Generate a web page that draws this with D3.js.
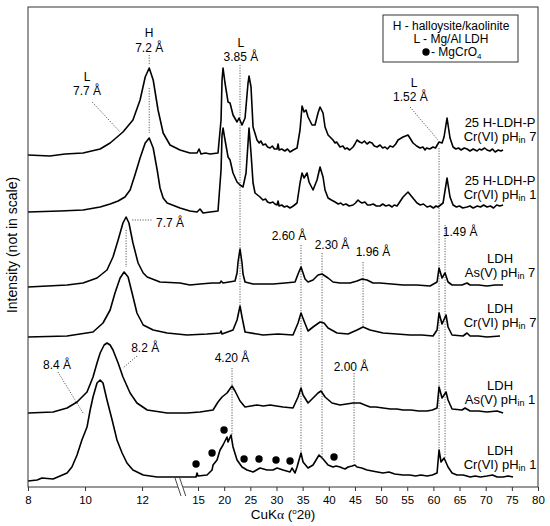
<!DOCTYPE html>
<html>
<head>
<meta charset="utf-8">
<script src="https://cdn.jsdelivr.net/npm/d3@7"></script>
<style>
body{margin:0;background:#fff;}
text{font-family:"Liberation Sans",Arial,sans-serif;fill:#000;}
</style>
</head>
<body>
<div id="chart"></div>
<script>
// XRD patterns, [2theta, intensity] - intensities are stacked arbitrary units (not in scale)

var hlpCr7 = [[8.0,332],[8.77,331],[9.3,333],[9.93,334],[10.53,338],[10.88,344],[11.33,355],[11.68,367],[11.93,387],[12.11,410],[12.25,419],[12.39,407],[12.56,377],[12.74,354],[12.98,342],[13.33,337],[13.84,334],[14.81,334],[15.2,338],[15.57,333],[16.4,334],[17.3,333],[18.82,334],[19.40,367],[19.59,407],[19.78,419],[20.16,404],[20.74,385],[21.12,384],[21.69,372],[22.46,365],[22.84,369],[23.41,362],[23.99,369],[24.56,404],[24.75,411],[25.13,400],[25.52,360],[26.28,347],[26.7,344],[27.0,346],[27.43,342],[27.9,343],[28.3,340],[28.77,339],[29.2,341],[29.6,338],[30.11,338],[30.30,343],[30.5,337],[31.0,338],[31.6,336],[32.1,338],[32.59,335],[33.2,337],[33.93,339],[34.50,357],[34.89,381],[35.27,375],[35.65,377],[36.03,370],[36.80,362],[37.37,362],[37.94,374],[38.33,380],[38.90,374],[39.28,360],[39.86,352],[40.81,347],[41.2,344],[41.5,345],[42.15,340],[42.7,341],[43.1,338],[43.49,339],[44.0,337],[44.64,340],[45.0,343],[45.40,347],[45.9,345],[46.36,344],[46.8,346],[47.31,343],[47.8,345],[48.27,344],[48.7,341],[49.23,340],[49.8,342],[50.3,339],[50.76,340],[51.2,338],[51.7,341],[52.28,340],[52.8,343],[53.24,347],[54.20,350],[55.15,352],[56.11,344],[56.8,341],[57.45,339],[58.0,340],[58.4,337],[58.7,339],[59.3,338],[59.93,340],[60.4,339],[61.08,345],[61.65,344],[62.04,350],[62.61,369],[63.18,349],[63.76,340],[64.3,338],[64.8,339],[65.3,337],[65.9,339],[66.43,338],[67.0,336],[67.6,338],[68.35,336],[68.8,338],[69.2,337],[69.8,339],[70.26,337],[70.8,336],[71.3,338],[71.8,335],[72.4,337],[72.9,336],[73.32,337]];

var hlpCr1 = [[8.0,275],[9.12,276],[9.93,277],[10.53,280],[10.88,283],[11.16,286],[11.40,290],[11.58,297],[11.75,312],[11.93,329],[12.11,344],[12.25,349],[12.39,339],[12.53,317],[12.63,299],[12.74,289],[12.88,284],[13.33,279],[13.84,276],[14.81,275],[15.38,278],[15.96,274],[17.3,275],[18.82,276],[19.40,317],[19.59,352],[19.78,359],[20.16,347],[20.74,330],[21.12,327],[21.69,314],[22.46,305],[23.03,302],[23.60,300],[24.18,314],[24.56,344],[24.75,359],[25.13,334],[25.52,304],[25.90,294],[26.85,290],[27.4,287],[27.9,288],[28.3,285],[28.77,284],[29.3,285],[29.7,283],[30.11,282],[30.30,286],[30.5,281],[31.0,282],[31.5,280],[32.0,281],[32.59,279],[33.2,281],[33.93,284],[34.50,304],[34.89,314],[35.27,309],[35.84,314],[36.22,305],[36.99,297],[37.75,307],[38.33,320],[38.90,310],[39.28,297],[39.86,289],[40.5,287],[41.20,285],[41.8,283],[42.3,284],[42.72,282],[43.3,283],[43.9,281],[44.64,282],[45.1,284],[45.59,287],[46.0,285],[46.36,284],[46.9,285],[47.4,282],[47.89,282],[48.5,283],[49.1,281],[49.80,281],[50.3,283],[50.9,281],[51.5,282],[52.1,280],[52.5,282],[53.05,281],[54.20,290],[55.15,295],[55.92,290],[56.87,284],[57.5,282],[58.1,283],[58.79,280],[59.4,281],[60.0,279],[60.5,281],[60.89,280],[61.85,284],[62.61,309],[63.18,290],[63.76,282],[64.4,280],[65.0,281],[65.6,279],[66.43,280],[67.0,281],[67.6,279],[68.4,281],[69.0,280],[69.6,282],[70.26,280],[70.9,281],[71.5,279],[72.1,282],[72.7,281],[73.32,282]];

var ldhAs7 = [[8.0,200],[9.37,202],[9.93,204],[10.42,209],[10.77,217],[10.98,230],[11.16,247],[11.33,264],[11.44,270],[11.54,264],[11.68,244],[11.86,224],[12.04,214],[12.18,210],[12.63,205],[13.33,204],[13.84,202],[15.38,203],[17.68,204],[19.21,204],[19.40,206],[19.78,204],[22.07,206],[22.46,214],[22.65,225],[23.03,238],[23.41,224],[23.60,213],[23.99,205],[25.52,203],[29.34,203],[31.63,204],[33.55,205],[34.12,213],[34.69,220],[35.08,214],[35.46,208],[36.03,205],[36.99,207],[37.94,212],[38.71,213],[39.28,211],[39.86,209],[40.81,205],[42.15,204],[44.06,204],[45.40,206],[46.36,208],[47.31,207],[48.46,204],[49.80,204],[52.0,203],[54.20,202],[56.8,202],[59.36,201],[60.70,205],[61.08,219],[61.65,209],[62.23,214],[62.80,205],[63.57,202],[65.48,202],[66.43,204],[67.01,202],[68.6,202],[70.26,201],[71.8,202],[73.32,202]];

var ldhCr7 = [[8.0,150],[9.37,151],[10.28,155],[10.63,164],[10.88,177],[11.05,194],[11.23,209],[11.37,215],[11.51,210],[11.65,194],[11.82,174],[12.04,162],[12.39,157],[12.88,154],[13.68,152],[16.72,153],[19.21,154],[19.40,156],[19.59,153],[21.69,157],[22.46,167],[23.03,181],[23.41,170],[23.99,155],[27.43,152],[30.3,153],[33.16,152],[34.12,164],[34.69,174],[35.27,166],[36.03,156],[36.99,160],[38.33,165],[39.09,164],[39.86,159],[41.58,154],[43.68,153],[45.40,157],[46.55,160],[47.89,157],[50.37,154],[53.0,153],[55.54,152],[57.8,152],[59.93,151],[60.70,157],[61.08,174],[61.65,163],[62.42,172],[62.80,160],[63.57,152],[65.67,151],[66.43,154],[67.01,151],[68.6,151],[70.26,150],[72.74,151]];

var ldhAs1 = [[8.0,74],[8.88,75],[9.37,79],[9.72,85],[10.07,95],[10.28,110],[10.42,124],[10.53,134],[10.67,142],[10.77,144],[10.88,142],[10.98,137],[11.16,124],[11.33,110],[11.58,94],[11.82,84],[12.18,77],[12.88,74],[13.68,74],[15.38,75],[16.6,76],[17.87,77],[18.82,85],[19.59,90],[20.54,94],[21.50,101],[22.07,96],[23.03,86],[23.99,80],[25.1,81],[26.28,82],[27.5,81],[28.77,82],[30.0,81],[31.25,80],[33.16,79],[34.12,90],[34.69,99],[35.08,92],[36.03,84],[36.99,89],[37.94,94],[38.52,96],[39.28,90],[40.62,84],[42.15,82],[43.4,83],[44.64,84],[45.98,84],[46.9,82],[47.89,80],[49.0,80],[50.37,79],[51.8,78],[53.0,78],[54.20,77],[55.7,77],[57.2,76],[58.79,76],[59.8,77],[60.70,79],[61.08,100],[61.65,89],[62.42,95],[62.80,87],[63.57,78],[65.48,77],[66.05,79],[67.01,76],[68.6,76],[70.26,75],[72.17,76],[73.32,74]];

var ldhCr1 = [[8.0,6],[8.32,7],[8.49,9],[8.88,8],[9.37,14],[9.54,20],[9.72,32],[9.89,47],[10.07,60],[10.18,77],[10.28,90],[10.42,104],[10.53,107],[10.63,104],[10.77,87],[10.95,67],[11.12,47],[11.30,34],[11.47,24],[11.68,17],[12.04,12],[12.53,10],[13.09,10],[14.04,10],[14.62,10],[14.81,14],[15.0,11],[16.72,12],[17.68,17],[17.87,22],[18.63,27],[19.21,37],[19.78,42],[20.54,50],[20.74,45],[21.31,52],[21.69,40],[22.46,27],[23.41,20],[24.37,17],[25.52,15],[26.85,19],[28.19,17],[29.34,17],[30.11,19],[31.25,17],[32.59,15],[32.97,19],[33.55,14],[33.93,20],[34.69,34],[35.08,25],[36.03,19],[36.99,22],[38.14,32],[38.90,28],[39.86,22],[40.81,20],[41.4,21],[42.15,20],[42.6,19],[43.1,18],[43.7,20],[44.45,21],[45.0,22],[45.40,20],[46.3,19],[47.31,17],[48.3,16],[49.3,15],[50.37,14],[51.5,15],[52.6,13],[54.20,12],[55.5,12],[56.6,11],[57.6,12],[58.79,11],[59.8,12],[60.70,14],[61.08,37],[61.46,25],[62.04,29],[62.80,20],[63.57,14],[64.5,12],[65.67,12],[66.4,11],[67.01,10],[68.0,11],[69.0,10],[70.26,11],[71.3,12],[72.2,10],[73.32,10],[74.3,11],[75.23,10]];

var patterns = [hlpCr7, hlpCr1, ldhAs7, ldhCr7, ldhAs1, ldhCr1];

// sample names, right side
var sampleTop = ["25 H-LDH-P","25 H-LDH-P","LDH","LDH","LDH","LDH"];
var sampleIon = ["Cr(VI)","Cr(VI)","As(V)","Cr(VI)","As(V)","Cr(VI)"];
var samplePH = ["7","1","7","7","1","1"];
var sampleLevel = [365,307,229,179,102,37];

// MgCrO4 reflections in LDH Cr(VI) pHin 1
var mgcro4Theta = [14.62,17.68,19.97,23.8,26.66,29.91,32.59,41.0];
var mgcro4Int = [23,34,57,28,28,27,26,30];

// peak labels: text, 2theta, intensity
var peakText = ["H","7.2 Å","L","7.7 Å","L","3.85 Å","7.7 Å","L","1.52 Å","2.60 Å","2.30 Å","1.96 Å","1.49 Å","8.2 Å","8.4 Å","4.20 Å","2.00 Å"];
var peakTheta = [12.25,12.25,10.07,10.07,23.2,23.2,12.98,56.3,55.6,32.4,40.62,48.46,65.1,12.11,9.02,21.5,44.25];
var peakInt = [454,439,410,396,444,430,264,404,390,251,242,235,255,139,122,129,120];

// dotted guide lines: [2theta1, int1, 2theta2, int2]
var guides = [
  [12.25,432,12.25,422],[12.25,399,12.25,354],
  [10.25,385,11.23,355],
  [23.03,422,23.03,182],
  [11.65,267,12.35,267],[11.44,257,11.44,220],
  [34.69,242,34.69,34],
  [38.71,234,38.71,30],
  [46.55,225,46.55,160],
  [21.5,119,21.5,51],
  [44.83,114,44.83,25],
  [55.54,380,60.89,347],
  [61.08,339,61.08,37],
  [62.23,262,62.23,29],
  [11.82,131,11.33,119],
  [9.05,115,9.93,74]
];

var xTicks = [8,10,12,15,20,25,30,35,40,45,50,55,60,65,70,75,80];

var svgWidth = 550, svgHeight = 526;

var svg = d3.select("#chart").append("svg")
    .attr("width", svgWidth)
    .attr("height", svgHeight);

// broken axis: 8-13.4 wide, 14-80 compressed
var x = d3.scaleLinear()
    .domain([8, 13.4, 14, 80])
    .range([28, 182, 192.8, 538]);

var y = d3.scaleLinear()
    .domain([0, 480])
    .range([487, 7]);

// guide lines under the patterns
svg.append("g").selectAll("line")
    .data(guides)
    .enter().append("line")
    .attr("x1", d => x(d[0])).attr("y1", d => y(d[1]))
    .attr("x2", d => x(d[2])).attr("y2", d => y(d[3]))
    .attr("stroke", "#333")
    .attr("stroke-width", 0.8)
    .attr("stroke-dasharray", "1.2,1.4");

var line = d3.line()
    .x(d => x(d[0]))
    .y(d => y(d[1]));

svg.append("g").selectAll("path")
    .data(patterns)
    .enter().append("path")
    .attr("d", line)
    .attr("fill", "none")
    .attr("stroke", "#000")
    .attr("stroke-width", 1.6)
    .attr("stroke-linejoin", "round");

svg.append("g").selectAll("circle")
    .data(mgcro4Theta)
    .enter().append("circle")
    .attr("cx", d => x(d))
    .attr("cy", (d, i) => y(mgcro4Int[i]))
    .attr("r", 3.7)
    .attr("fill", "#000");

// frame
svg.append("rect")
    .attr("x", x(8)).attr("y", y(480))
    .attr("width", x(80) - x(8)).attr("height", y(0) - y(480))
    .attr("fill", "none")
    .attr("stroke", "#333")
    .attr("stroke-width", 1);

var xAxis = d3.axisBottom(x)
    .tickValues(xTicks)
    .tickSize(4)
    .tickSizeOuter(0)
    .tickFormat(d3.format("d"));

var gx = svg.append("g")
    .attr("transform", `translate(0,${y(0)})`)
    .call(xAxis);
gx.select(".domain").remove();
gx.selectAll("line").attr("stroke", "#333");
gx.selectAll("text")
    .attr("y", 9)
    .style("font-family", "'Liberation Sans',Arial,sans-serif")
    .style("font-size", "11.5px");

// axis break marks
var b1 = x(13.26), b2 = x(13.44), by = y(0);
svg.append("polygon")
    .attr("points", [[b1-1.5,by-2],[b2-1.5,by-2],[b2+1.5,by+2],[b1+1.5,by+2]].join(" "))
    .attr("fill", "#fff");
svg.append("g").selectAll("line")
    .data([b1, b2])
    .enter().append("line")
    .attr("x1", d => d - 3).attr("y1", by - 9)
    .attr("x2", d => d + 3).attr("y2", by + 9)
    .attr("stroke", "#333")
    .attr("stroke-width", 0.9);

// axis titles
var xt = svg.append("text")
    .attr("x", 283).attr("y", 519)
    .attr("text-anchor", "middle")
    .style("font-size", "13.5px");
xt.append("tspan").text("CuK");
xt.append("tspan").style("font-family", "'Liberation Serif',serif").text("α");
xt.append("tspan").text(" (");
xt.append("tspan").attr("dy", -5).style("font-size", "8px").text("o");
xt.append("tspan").attr("dy", 5).text("2");
xt.append("tspan").style("font-family", "'Liberation Serif',serif").text("θ");
xt.append("tspan").text(")");

svg.append("text")
    .attr("transform", "translate(17,245) rotate(-90)")
    .attr("text-anchor", "middle")
    .style("font-size", "14px")
    .text("Intensity (not in scale)");

// peak labels
svg.append("g").selectAll("text")
    .data(peakText)
    .enter().append("text")
    .attr("x", (d, i) => x(peakTheta[i]))
    .attr("y", (d, i) => y(peakInt[i]))
    .attr("dy", "0.35em")
    .attr("text-anchor", "middle")
    .style("font-size", "12px")
    .text(d => d);

// sample names
sampleTop.forEach(function(name, i){
    svg.append("text")
        .attr("x", x(72.74)).attr("y", y(sampleLevel[i]))
        .attr("dy", "0.35em")
        .attr("text-anchor", "middle")
        .style("font-size", "13px")
        .text(name);
    var t = svg.append("text")
        .attr("x", x(72.74)).attr("y", y(sampleLevel[i] - 14.5))
        .attr("dy", "0.35em")
        .attr("text-anchor", "middle")
        .style("font-size", "13px");
    t.append("tspan").text(sampleIon[i] + " pH");
    t.append("tspan").attr("dy", 1.5).style("font-size", "9px").text("in");
    t.append("tspan").attr("dy", -1.5).text(" " + samplePH[i]);
});

// legend
var lg = svg.append("g");
lg.append("rect")
    .attr("x", 383).attr("y", 15)
    .attr("width", 135).attr("height", 47)
    .attr("fill", "#fff")
    .attr("stroke", "#333")
    .attr("stroke-width", 1);
lg.append("text").attr("x", 451).attr("y", 26).attr("dy", "0.35em")
    .attr("text-anchor", "middle").style("font-size", "12px")
    .text("H - halloysite/kaolinite");
lg.append("text").attr("x", 451).attr("y", 39).attr("dy", "0.35em")
    .attr("text-anchor", "middle").style("font-size", "12px")
    .text("L - Mg/Al LDH");
lg.append("circle").attr("cx", 426).attr("cy", 52).attr("r", 3.7).attr("fill", "#000");
var lt = lg.append("text").attr("x", 431).attr("y", 52).attr("dy", "0.35em")
    .style("font-size", "12px");
lt.append("tspan").text(" - MgCrO");
lt.append("tspan").attr("dy", 3).style("font-size", "8px").text("4");
</script>
</body>
</html>
